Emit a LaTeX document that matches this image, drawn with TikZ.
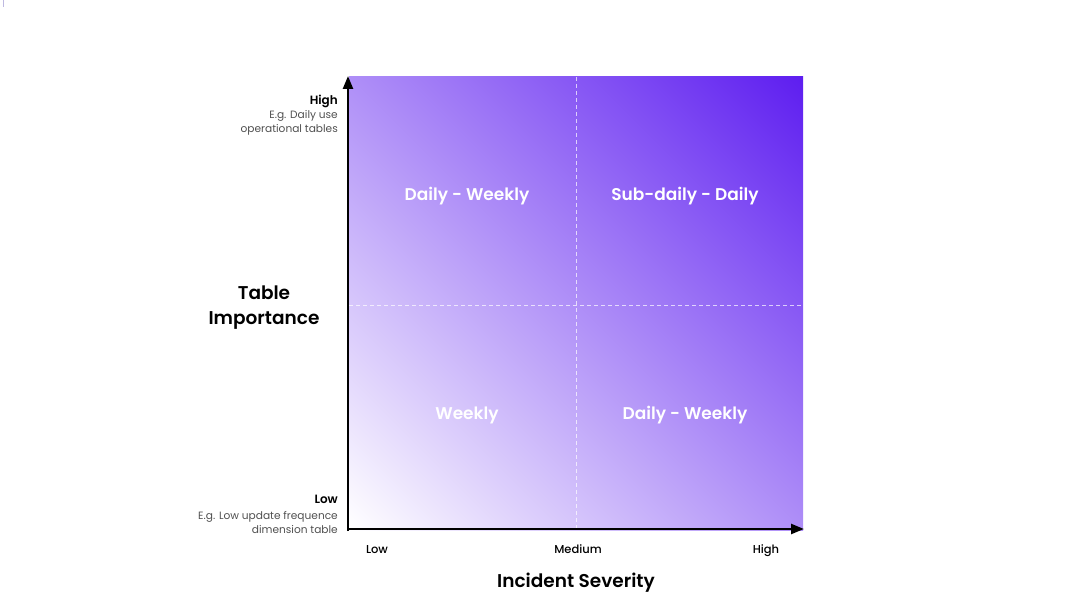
\documentclass[tikz,border=0pt]{standalone}
\usepackage{fontspec}
\setmainfont{Poppins}[BoldFont={Poppins SemiBold}]
\newfontfamily\medfont{Poppins Medium}
\usetikzlibrary{arrows.meta}
\definecolor{deeppurple}{RGB}{94,30,240}
\definecolor{graytxt}{RGB}{80,80,80}
\definecolor{markcol}{RGB}{190,185,225}
\pgfdeclarehorizontalshading{diagfill}{100bp}{color(0bp)=(white); color(14.64bp)=(white); color(85.36bp)=(deeppurple); color(100bp)=(deeppurple)}
\begin{document}
\begin{tikzpicture}[x=1pt,y=-1pt,
  quad/.style={text=white,font=\fontsize{17}{20}\selectfont\bfseries},
  axtitle/.style={text=black,font=\fontsize{18.5}{25}\selectfont\bfseries,align=center},
  ticklab/.style={text=black,font=\fontsize{11.5}{14}\selectfont\medfont,anchor=base},
  ylev/.style={text=black,font=\fontsize{12}{14}\selectfont\bfseries,anchor=east,inner sep=0pt},
  ynote/.style={text=graytxt,font=\fontsize{10.6}{14}\selectfont,anchor=east,align=right,inner sep=0pt},
  axisline/.style={line width=2.4pt,-{Triangle[length=13pt,width=10pt]}},
  grid/.style={white,opacity=0.7,line width=0.9pt,dash pattern=on 4pt off 3pt}]
\useasboundingbox (0,0) rectangle (1071,599);
\draw[markcol,line width=0.8pt] (3.5,0) -- (3.5,7);
\shade[shading=diagfill,shading angle=45] (349,77) rectangle (803,530);
\coordinate (vtop) at (576,77);
\coordinate (vbot) at (576,529);
\coordinate (hl) at (349,305);
\coordinate (hr) at (803,305);
\draw[grid] (vtop) -- (vbot);
\draw[grid] (hl) -- (hr);
\coordinate (ytip) at (348,76);
\coordinate (xtip) at (804,529);
\coordinate (ystart) at (348,531);
\coordinate (xstart) at (347,529);
\draw[axisline] (ystart) -- (ytip);
\draw[axisline] (xstart) -- (xtip);
\node[quad] (q1) at (467,196) {Daily - Weekly};
\node[quad] (q2) at (685,196) {Sub-daily - Daily};
\node[quad] (q3) at (467,415) {Weekly};
\node[quad] (q4) at (685,415) {Daily - Weekly};
\node[axtitle] (ytitle) at (264,308) {Table\\Importance};
\node[axtitle] (xtitle) at (576,583) {Incident Severity};
\node[ticklab] (xlow) at (377,553) {Low};
\node[ticklab] (xmed) at (578,553) {Medium};
\node[ticklab] (xhigh) at (766,553) {High};
\node[ylev] (yhigh) at (338,101) {High};
\node[ynote] (yhighnote) at (338,123) {E.g. Daily use\\operational tables};
\node[ylev] (ylow) at (338,499) {Low};
\node[ynote] (ylownote) at (338,522) {E.g. Low update frequence\\dimension table};
\end{tikzpicture}
\end{document}
